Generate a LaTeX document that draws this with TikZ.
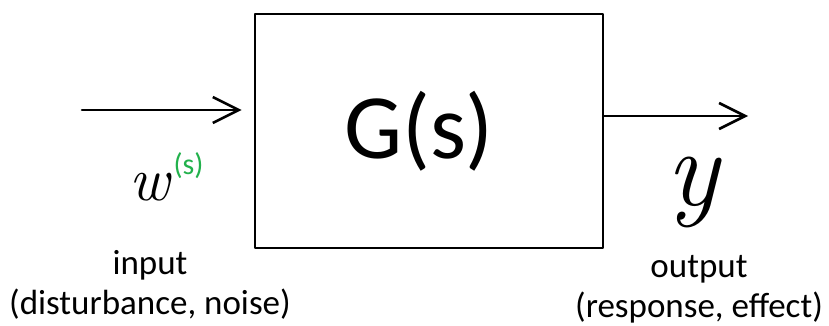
\documentclass[tikz,border=0pt]{standalone}
\usepackage{fontspec}
\setmainfont{Carlito}
\newfontfamily\varfont{Latin Modern Roman}
\usepackage{xcolor}
\usetikzlibrary{arrows.meta,positioning}
\definecolor{ink}{HTML}{000000}
\definecolor{handgreen}{HTML}{22B14C}
\tikzset{
  >={Straight Barb[length=26pt,width=26pt]},
  every node/.style={text=ink},
  block/.style={draw=ink,line width=2.6pt,line join=round,minimum width=348pt,minimum height=234pt,inner sep=0pt,font=\fontsize{92}{100}\selectfont},
  signal/.style={->,line width=2.6pt,draw=ink,line cap=round,line join=round},
  caption/.style={align=center,font=\fontsize{35}{40}\selectfont,inner sep=0pt},
  var/.style={inner sep=0pt},
  supscr/.style={inner sep=0pt,text=handgreen,font=\fontsize{30}{32}\selectfont},
}
\begin{document}
\begin{tikzpicture}[x=1pt,y=-1pt]
\useasboundingbox (0,0) rectangle (829,326);

\node[block] (plant) at (429,131) {\hspace*{-20pt}G(s)};

\coordinate (in) at (82,110);
\coordinate (out) at (748,116);
\draw[signal,shorten >=12pt] (in) -- (in -| plant.west);
\draw[signal] (plant.east |- out) -- (out);

\node[var,font=\varfont\itshape\fontsize{62}{64}\selectfont] (u) at (150,187) {w};
\node[supscr,above right=-6pt and 3pt of u] (usup) {(s)};
\node[var,font=\varfont\itshape\fontsize{110}{110}\selectfont] (yout) at (693,192) {y};

\node[caption] (inlabel) at (150,285) {input\\(disturbance, noise)};
\node[caption] (outlabel) at (699,289) {output\\(response, effect)};

\end{tikzpicture}
\end{document}
